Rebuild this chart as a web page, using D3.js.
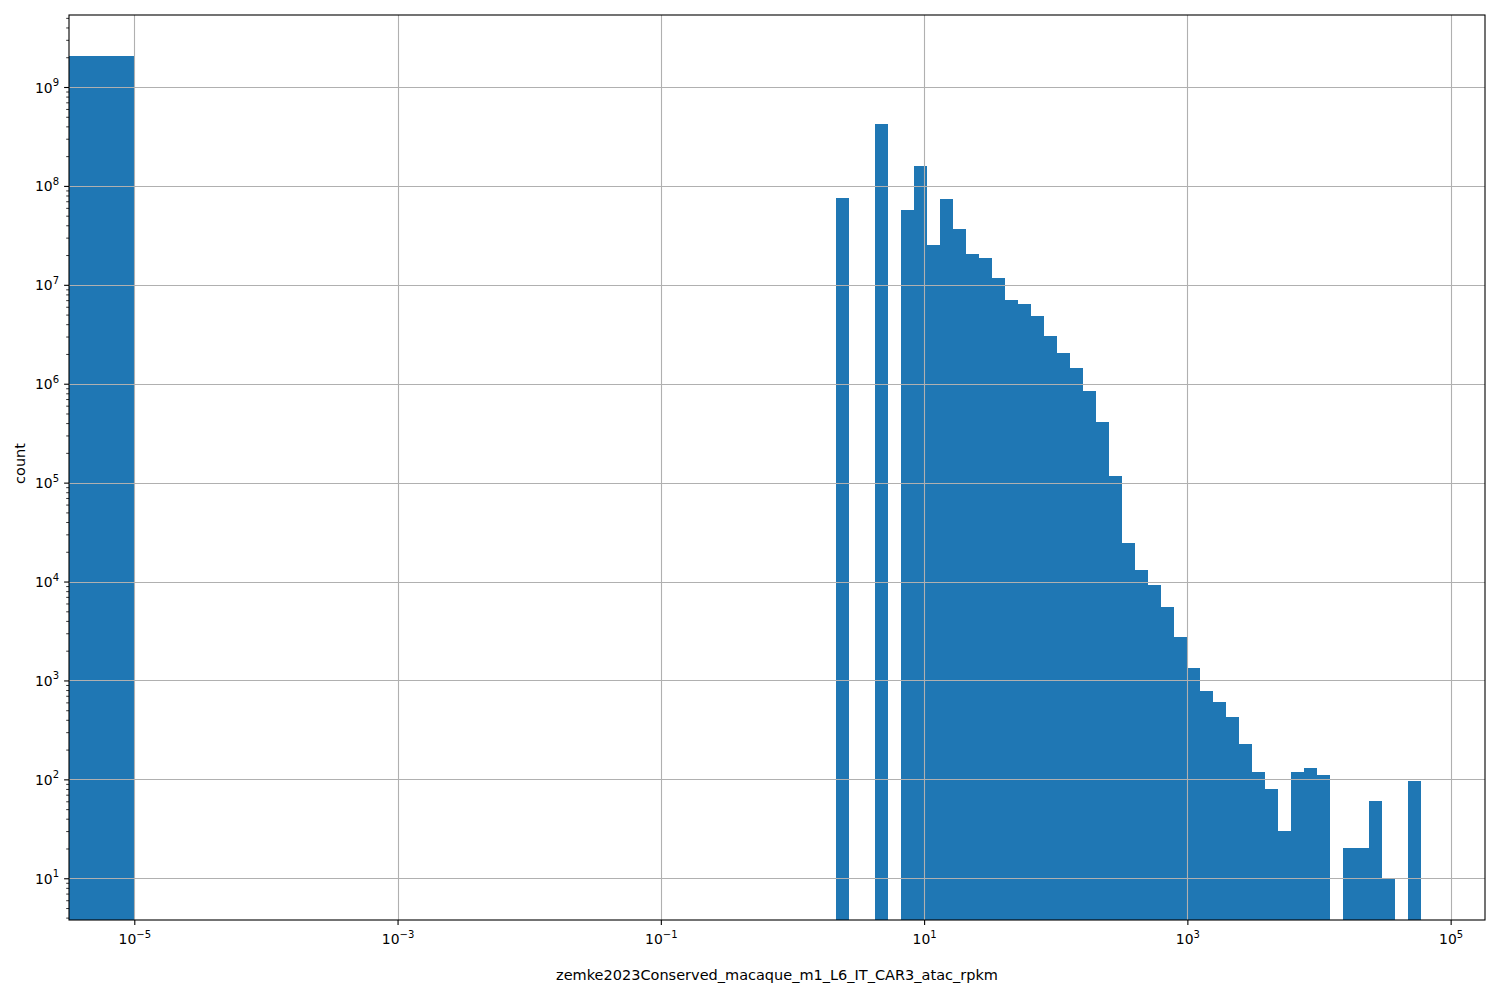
<!DOCTYPE html>
<html>
<head>
<meta charset="utf-8">
<script src="https://cdn.jsdelivr.net/npm/d3@7"></script>
<style>
  html, body { margin: 0; padding: 0; background: #ffffff; }
  svg text { font-family: "DejaVu Sans", sans-serif; fill: #000; }
</style>
</head>
<body>
<svg id="chart" width="1500" height="1000"></svg>
<script>
// ---- data ----
const xLabel = "zemke2023Conserved_macaque_m1_L6_IT_CAR3_atac_rpkm";
const yLabel = "count";
// histogram binning: one bin [0, 1e-5], then 99 log-spaced bins from 1e-5 to the max value
const zeroBinUpper = 1e-5;
const zeroBinCount = 2.07e9;
const logBinMin = 1e-5;
const logBinMax = 5.95e4;
const nLogBins = 99;
const firstBinIndex = 54;   // index of the first non-empty log bin
const counts = [
  7.6e7, 0, 0, 4.26e8, 0, 5.74e7, 1.6e8, 2.54e7, 7.43e7, 3.69e7,
  2.06e7, 1.88e7, 1.18e7, 7.06e6, 6.44e6, 4.87e6, 3.06e6, 2.06e6, 1.45e6, 8.5e5,
  4.13e5, 1.17e5, 2.47e4, 1.31e4, 9.27e3, 5.56e3, 2.77e3, 1.34e3, 787, 609,
  430, 228, 119, 80, 30, 119, 131, 111, 0, 20,
  20, 61, 10, 0, 97
];
const xTickExps = [-5, -3, -1, 1, 3, 5];
const yTickExps = [1, 2, 3, 4, 5, 6, 7, 8, 9];

// ---- layout ----
const margin = { left: 69, right: 15, top: 15, bottom: 80 };
const W = 1500, H = 1000;
const plotW = W - margin.left - margin.right;
const plotH = H - margin.top - margin.bottom;

const svg = d3.select("#chart");
const g = svg.append("g").attr("transform", `translate(${margin.left},${margin.top})`);

const x = d3.scaleLog().domain([Math.pow(10, -5.496), Math.pow(10, 5.261)]).range([0, plotW]);
const y = d3.scaleLog().domain([Math.pow(10, 0.578), Math.pow(10, 9.728)]).range([plotH, 0]);

// bins
const lmin = Math.log10(logBinMin), lmax = Math.log10(logBinMax);
const bw = (lmax - lmin) / nLogBins;
const bars = [{ x0: 1e-12, x1: zeroBinUpper, c: zeroBinCount }];
counts.forEach((c, i) => {
  const k = firstBinIndex + i;
  bars.push({ x0: Math.pow(10, lmin + k * bw), x1: Math.pow(10, lmin + (k + 1) * bw), c });
});

g.append("clipPath").attr("id", "clip").append("rect").attr("width", plotW).attr("height", plotH);

const barG = g.append("g").attr("clip-path", "url(#clip)");
barG.selectAll("rect").data(bars.filter(d => d.c > 0)).join("rect")
  .attr("x", d => Math.max(-10, x(d.x0)))
  .attr("width", d => x(d.x1) - Math.max(-10, x(d.x0)))
  .attr("y", d => y(d.c))
  .attr("height", d => plotH + 10 - y(d.c))
  .attr("fill", "#1f77b4")
  .attr("shape-rendering", "crispEdges");

// grid (drawn above bars)
const gridG = g.append("g");
xTickExps.forEach(e => {
  const px = Math.round(x(Math.pow(10, e))) + 0.5;
  gridG.append("line").attr("x1", px).attr("x2", px).attr("y1", 0).attr("y2", plotH)
    .attr("stroke", "#b0b0b0").attr("stroke-width", 1.1);
});
yTickExps.forEach(e => {
  const py = Math.round(y(Math.pow(10, e))) + 0.5;
  gridG.append("line").attr("x1", 0).attr("x2", plotW).attr("y1", py).attr("y2", py)
    .attr("stroke", "#b0b0b0").attr("stroke-width", 1.1);
});

// axes
const supFmt = e => (e < 0 ? "\u2212" + Math.abs(e) : String(e));

const xAxis = d3.axisBottom(x).tickValues(xTickExps.map(e => Math.pow(10, e)))
  .tickSize(4.9).tickPadding(4).tickFormat("");
const xa = g.append("g").attr("transform", `translate(0,${plotH})`).call(xAxis);
xa.select(".domain").remove();
xa.selectAll(".tick line").attr("stroke", "#000").attr("stroke-width", 1.1);
xa.selectAll(".tick").each(function (v) {
  const e = Math.round(Math.log10(v));
  const t = d3.select(this).append("text").attr("y", 24).attr("text-anchor", "middle")
    .style("font-size", "13.9px");
  t.append("tspan").text("10");
  t.append("tspan").attr("dy", -6.5).style("font-size", "10px").text(supFmt(e));
});

// y minor ticks
const yMinor = [];
for (let e = 0; e <= 9; e++) for (let m = 2; m <= 9; m++) {
  const v = m * Math.pow(10, e);
  if (v >= y.domain()[0] && v <= y.domain()[1]) yMinor.push(v);
}
const yAxisMinor = d3.axisLeft(y).tickValues(yMinor).tickSize(2.8).tickFormat("");
const yam = g.append("g").call(yAxisMinor);
yam.select(".domain").remove();
yam.selectAll(".tick line").attr("stroke", "#000").attr("stroke-width", 0.8);

const yAxis = d3.axisLeft(y).tickValues(yTickExps.map(e => Math.pow(10, e))).tickSize(4.9).tickFormat("");
const ya = g.append("g").call(yAxis);
ya.select(".domain").remove();
ya.selectAll(".tick line").attr("stroke", "#000").attr("stroke-width", 1.1);
ya.selectAll(".tick").each(function (v) {
  const e = Math.round(Math.log10(v));
  const t = d3.select(this).append("text").attr("x", -10).attr("y", 5).attr("text-anchor", "end")
    .style("font-size", "13.9px");
  t.append("tspan").text("10");
  t.append("tspan").attr("dy", -6.5).style("font-size", "10px").text(supFmt(e));
});

// spines
g.append("rect").attr("x", 0).attr("y", 0).attr("width", plotW).attr("height", plotH)
  .attr("fill", "none").attr("stroke", "#000").attr("stroke-width", 1.1);

// labels
svg.append("text").attr("x", margin.left + plotW / 2).attr("y", 980)
  .attr("text-anchor", "middle").style("font-size", "14.5px").text(xLabel);
svg.append("text").attr("transform", `translate(25,${margin.top + plotH / 2 - 4}) rotate(-90)`)
  .attr("text-anchor", "middle").style("font-size", "14.5px").text(yLabel);
</script>
</body>
</html>
